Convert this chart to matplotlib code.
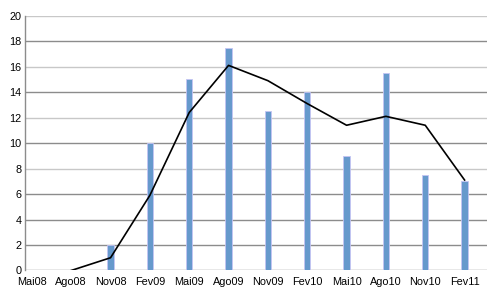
import numpy as np
import matplotlib.pyplot as plt

# categories (quarters) and values
months = ['Mai08', 'Ago08', 'Nov08', 'Fev09', 'Mai09', 'Ago09',
          'Nov09', 'Fev10', 'Mai10', 'Ago10', 'Nov10', 'Fev11']
bar_values = [0, 0, 2, 10, 15, 17.5, 12.5, 14, 9, 15.5, 7.5, 7]
line_values = [np.nan, 0, 1, 5.9, 12.4, 16.1, 14.9, 13.1, 11.4, 12.1, 11.4, 7.1]

plt.rcParams['font.family'] = 'Liberation Sans'

fig = plt.figure(figsize=(4.87, 2.94), dpi=100)
ax = fig.add_axes([0.0513, 0.080, 0.9487, 0.8666])

x = np.arange(len(months))

# gridlines alternate between light and darker grey
grid_colors = {0: '#8c8c8c', 2: '#8c8c8c', 4: '#8c8c8c', 6: '#8c8c8c',
               8: '#c8c8c8', 10: '#8c8c8c', 12: '#c8c8c8', 14: '#8c8c8c',
               16: '#c8c8c8', 18: '#8c8c8c', 20: '#c8c8c8'}
for yv, c in grid_colors.items():
    ax.axhline(yv, color=c, linewidth=1.0, zorder=0)

ax.bar(x, bar_values, width=0.16, color='#6699cc', edgecolor='#c4c4f4',
       linewidth=0.6, zorder=2)
ax.plot(x, line_values, color='black', linewidth=1.2, zorder=3)

ax.set_xlim(-0.175, 11.57)
ax.set_ylim(0, 20)
ax.set_yticks(range(0, 21, 2))
ax.set_xticks(x)
ax.set_xticklabels(months)
ax.tick_params(axis='both', length=0, labelsize=7.8, colors='black')
ax.tick_params(axis='x', pad=4.5)
ax.tick_params(axis='y', pad=2.5)

for side in ['top', 'right', 'bottom']:
    ax.spines[side].set_visible(False)
ax.spines['left'].set_color('#8c8c8c')
ax.spines['left'].set_linewidth(1.0)

fig.savefig('out.png', dpi=100)
